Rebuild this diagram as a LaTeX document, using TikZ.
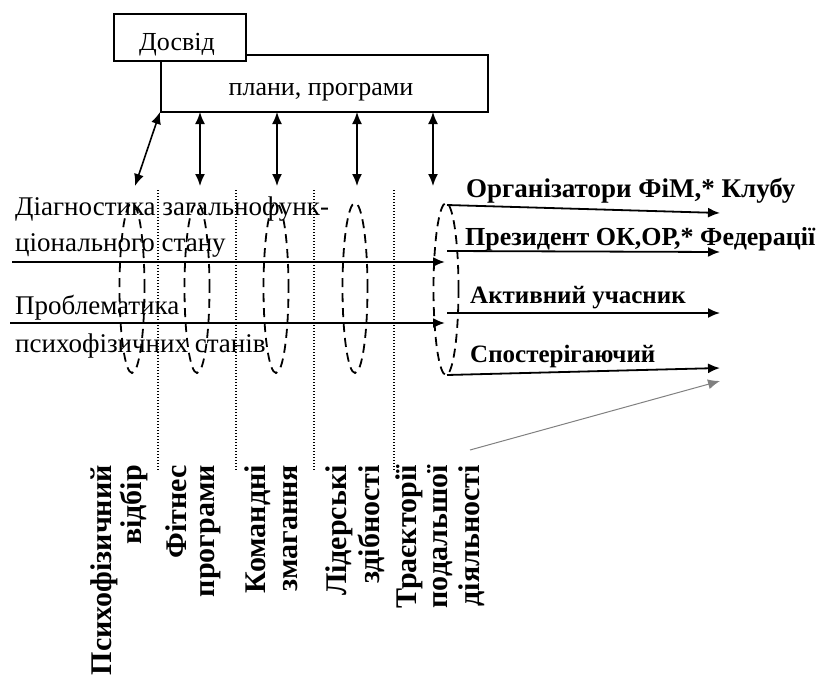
\documentclass[tikz,border=0pt]{standalone}
\usepackage{fontspec}
\setmainfont{Liberation Serif}
\usetikzlibrary{arrows.meta,shapes.geometric}
\begin{document}
\begin{tikzpicture}[x=1pt,y=-1pt,
  box/.style={draw, line width=1.8pt, inner sep=0pt},
  lbl/.style={font=\fontsize{26}{30}\selectfont, inner sep=0pt, anchor=base west},
  llbl/.style={lbl, font=\fontsize{27}{31}\selectfont},
  blbl/.style={lbl, font=\fontsize{26}{30}\selectfont\bfseries},
  vlbl/.style={font=\fontsize{30}{34}\selectfont\bfseries, inner sep=0pt, rotate=90, anchor=base east},
  arr/.style={line width=1.8pt, -{Latex[length=12pt,width=10pt]}},
  darr/.style={line width=1.6pt, {Latex[length=12pt,width=10pt]}-{Latex[length=12pt,width=10pt]}},
  sepline/.style={line width=1.3pt, dash pattern=on 1.2pt off 1.8pt},
  zone/.style={draw, ellipse, dash pattern=on 9pt off 6pt, line width=1.8pt, inner sep=0pt, minimum width=25pt, minimum height=170pt}
]
\useasboundingbox (0,0) rectangle (826,677);

% top: plans box and the experience box over its corner
\node[box, minimum width=327pt, minimum height=57pt, anchor=north west] (plan) at (160,54) {};
\node[box, fill=white, minimum width=132pt, minimum height=47pt, anchor=north west] (exp) at (113,13) {};
\node[lbl, anchor=base] (exptext) at (177,50) {Досвід};
\node[lbl, anchor=base] (plantext) at (321,95) {плани, програми};

% links between the plans box and the stages
\coordinate (l0t) at (160,112); \coordinate (l0b) at (135,186);
\coordinate (l1t) at (200,112); \coordinate (l1b) at (200,186);
\coordinate (l2t) at (277,112); \coordinate (l2b) at (277,186);
\coordinate (l3t) at (357,112); \coordinate (l3b) at (357,186);
\coordinate (l4t) at (433,112); \coordinate (l4b) at (433,186);
\foreach \i in {0,...,4} \draw[darr] (l\i t) -- (l\i b);

% dotted separators between the stages
\foreach \x [count=\k] in {158,236,314,394} {
  \coordinate (s\k t) at (\x,190); \coordinate (s\k b) at (\x,470);
  \draw[sepline] (s\k t) -- (s\k b);
}

% dashed zones of each stage
\node[zone] (z1) at (132,288) {};
\node[zone] (z2) at (197,288) {};
\node[zone] (z3) at (276,288) {};
\node[zone] (z4) at (355,288) {};
\node[zone, minimum height=172pt] (z5) at (446,289) {};

% incoming flows
\coordinate (in1a) at (12,262); \coordinate (in1b) at (445,262);
\coordinate (in2a) at (10,323); \coordinate (in2b) at (445,323);
\draw[arr, line width=2.2pt] (in1a) -- (in1b);
\draw[arr, line width=2.2pt] (in2a) -- (in2b);

% outgoing trajectories
\coordinate (o1a) at (447,205); \coordinate (o1b) at (720,213);
\coordinate (o2a) at (447,251); \coordinate (o2b) at (720,252);
\coordinate (o3a) at (447,313); \coordinate (o3b) at (720,313);
\coordinate (o4a) at (447,375); \coordinate (o4b) at (720,368);
\foreach \i in {1,...,4} \draw[arr] (o\i a) -- (o\i b);
\coordinate (g1) at (470,450); \coordinate (g2) at (720,381);
\draw[line width=1pt, gray, -{Latex[length=12pt,width=10pt]}] (g1) -- (g2);

% left texts
\node[llbl] (t1) at (15,215) {Діагностика загальнофунк-};
\node[llbl] (t2) at (15,251) {ціонального стану};
\node[llbl] (t3) at (15,314) {Проблематика};
\node[llbl] (t4) at (15,352) {психофізичних станів};

% right texts
\node[blbl, font=\fontsize{27}{31}\selectfont\bfseries] (r1) at (466,197) {Організатори ФіМ,* Клубу};
\node[blbl] (r2) at (465,245) {Президент ОК,ОР,* Федерації};
\node[blbl, font=\fontsize{25}{29}\selectfont\bfseries] (r3) at (470,303) {Активний учасник};
\node[blbl, font=\fontsize{25}{29}\selectfont\bfseries] (r4) at (470,362) {Спостерігаючий};

% stage names
\node[vlbl] (v1) at (111,465) {Психофізичний};
\node[vlbl] (v2) at (141,465) {відбір};
\node[vlbl] (v3) at (186,465) {Фітнес};
\node[vlbl] (v4) at (214,465) {програми};
\node[vlbl] (v5) at (265,465) {Командні};
\node[vlbl] (v6) at (297,465) {змагання};
\node[vlbl] (v7) at (346,465) {Лідерські};
\node[vlbl] (v8) at (379,465) {здібності};
\node[vlbl] (v9) at (416,465) {Траєкторії};
\node[vlbl] (v10) at (447,465) {подальшої};
\node[vlbl] (v11) at (479,465) {діяльності};
\end{tikzpicture}
\end{document}
